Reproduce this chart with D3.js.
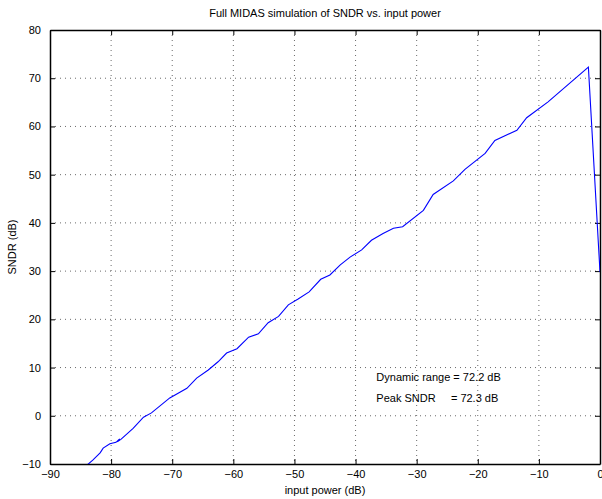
<!DOCTYPE html>
<html>
<head>
<meta charset="utf-8">
<script src="https://cdn.jsdelivr.net/npm/d3@7"></script>
<style>
  body { margin: 0; background: #fff; }
  svg text { font-family: "Liberation Sans", Arial, sans-serif; fill: #000; }
</style>
</head>
<body>
<div class="canvas"></div>
<script>
// data
const inputPower = [-84.2, -83.0, -81.8, -81.3, -80.2, -79.2, -78.6, -79.0, -78.4, -76.4, -74.7, -73.4, -70.4, -67.6, -66.0,
  -64.1, -62.5, -61.1, -59.4, -57.5, -55.9, -54.3, -52.6, -51.0, -49.4, -47.6, -45.7, -44.2, -42.5, -40.9,
  -39.0, -37.4, -35.5, -33.8, -32.3, -28.9, -27.3, -24.0, -22.1, -18.8, -17.2, -13.6, -12.0, -8.5, -1.9, 0];
const sndr = [-10.5, -9.2, -7.7, -6.7, -5.8, -5.5, -4.8, -5.4, -4.9, -2.6, -0.3, 0.6, 3.7, 5.7, 7.8,
  9.5, 11.2, 13.0, 13.9, 16.3, 17.0, 19.3, 20.6, 23.0, 24.2, 25.7, 28.3, 29.2, 31.3, 32.9,
  34.4, 36.4, 37.8, 38.9, 39.2, 42.6, 45.9, 48.7, 51.1, 54.4, 57.1, 59.2, 61.8, 65.1, 72.3, 29.8];
const xTicks = [-90, -80, -70, -60, -50, -40, -30, -20, -10, 0];
const yTicks = [-10, 0, 10, 20, 30, 40, 50, 60, 70, 80];
const notes = ["Dynamic range = 72.2 dB", "Peak SNDR     = 72.3 dB"];

const margin = { top: 30, right: 2, bottom: 35, left: 50 };
const width = 602, height = 499;
const graphWidth = width - margin.left - margin.right;
const graphHeight = height - margin.top - margin.bottom;

const svg = d3.select('.canvas').append('svg')
    .attr('width', width)
    .attr('height', height);

const graph = svg.append('g')
    .attr('transform', `translate(${margin.left}, ${margin.top})`);

// scales
const x = d3.scaleLinear().domain([-90, 0]).range([0, graphWidth]);
const y = d3.scaleLinear().domain([-10, 80]).range([graphHeight, 0]);

// dotted grid
graph.append('g').selectAll('line')
    .data(xTicks.slice(1, -1))
    .enter().append('line')
    .attr('x1', d => x(d)).attr('x2', d => x(d))
    .attr('y1', 0).attr('y2', graphHeight)
    .attr('stroke', '#444').attr('stroke-width', 0.8)
    .attr('stroke-dasharray', '1,4');

graph.append('g').selectAll('line')
    .data(yTicks.slice(1, -1))
    .enter().append('line')
    .attr('y1', d => y(d)).attr('y2', d => y(d))
    .attr('x1', 0).attr('x2', graphWidth)
    .attr('stroke', '#444').attr('stroke-width', 0.8)
    .attr('stroke-dasharray', '1,4');

// axes, ticks pointing inward
const fmt = d3.format('d');
const xAxisGroup = graph.append('g')
    .attr('transform', `translate(0, ${graphHeight})`)
    .call(d3.axisBottom(x).tickValues(xTicks).tickSizeInner(-5).tickSizeOuter(0).tickPadding(8).tickFormat(fmt));
const xTopGroup = graph.append('g')
    .call(d3.axisTop(x).tickValues(xTicks).tickSizeInner(-5).tickSizeOuter(0).tickFormat(''));
const yAxisGroup = graph.append('g')
    .call(d3.axisLeft(y).tickValues(yTicks).tickSizeInner(-5).tickSizeOuter(0).tickPadding(9).tickFormat(fmt));
const yRightGroup = graph.append('g')
    .attr('transform', `translate(${graphWidth}, 0)`)
    .call(d3.axisRight(y).tickValues(yTicks).tickSizeInner(-5).tickSizeOuter(0).tickFormat(''));

[xAxisGroup, xTopGroup, yAxisGroup, yRightGroup].forEach(g => {
    g.select('.domain').attr('stroke', '#000').attr('stroke-width', 1.5);
    g.selectAll('.tick line').attr('stroke', '#000').attr('stroke-width', 1);
    g.selectAll('text').style('font-size', '11px').attr('fill', '#000')
        .style('font-family', '"Liberation Sans", Arial, sans-serif');
});
xAxisGroup.selectAll('text').attr('dy', '0.55em');

// line
svg.append('clipPath').attr('id', 'plotclip')
    .append('rect').attr('width', graphWidth).attr('height', graphHeight);
graph.append('path')
    .datum(inputPower.map((v, i) => [v, sndr[i]]))
    .attr('clip-path', 'url(#plotclip)')
    .attr('fill', 'none')
    .attr('stroke', '#0000ff')
    .attr('stroke-width', 1.1)
    .attr('d', d3.line().x(d => x(d[0])).y(d => y(d[1])));

// annotations
graph.selectAll('.note')
    .data(notes)
    .enter().append('text')
    .attr('class', 'note')
    .attr('x', x(-36.6))
    .attr('y', (d, i) => y(7.2) + i * 21)
    .style('font-size', '11px')
    .style('white-space', 'pre')
    .attr('xml:space', 'preserve')
    .text(d => d);

// titles
svg.append('text')
    .attr('x', margin.left + graphWidth / 2)
    .attr('y', 17)
    .attr('text-anchor', 'middle')
    .style('font-size', '11px')
    .text('Full MIDAS simulation of SNDR vs. input power');

svg.append('text')
    .attr('x', margin.left + graphWidth / 2)
    .attr('y', 494)
    .attr('text-anchor', 'middle')
    .style('font-size', '11px')
    .text('input power (dB)');

svg.append('text')
    .attr('transform', `translate(16, ${margin.top + graphHeight / 2}) rotate(-90)`)
    .attr('text-anchor', 'middle')
    .style('font-size', '11px')
    .text('SNDR (dB)');
</script>
</body>
</html>
